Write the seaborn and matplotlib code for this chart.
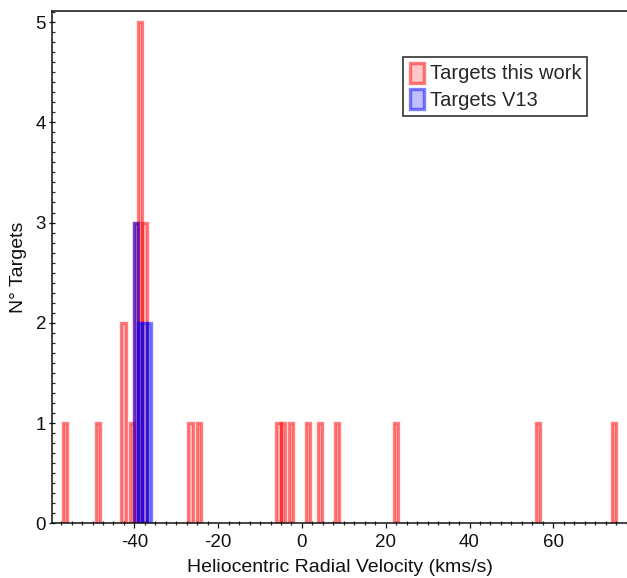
import numpy as np
import seaborn as sb
from matplotlib import pyplot as plt
from matplotlib.patches import Patch
from matplotlib.ticker import MultipleLocator

# heliocentric radial velocities (km/s)
v_this_work = [-56.6, -48.6, -42.8, -42.5, -40.6,
               -39.8, -39.6, -39.4,
               -38.9, -38.7, -38.6, -38.4, -38.2,
               -37.8, -37.6, -37.3,
               -26.6, -24.6, -5.7, -4.6, -2.6, 1.4, 4.4, 8.4,
               22.4, 56.4, 74.4]
v_v13 = [-39.8, -39.6, -39.3,
         -38.7, -38.4,
         -37.7, -37.4,
         -36.7, -36.4]

labels = ["Targets this work", "Targets V13"]
bins = np.arange(-59.1, 78.0, 1.0)

sb.set_style("ticks")
plt.rcParams['font.family'] = ['Liberation Sans', 'DejaVu Sans']
plt.rcParams['axes.unicode_minus'] = False

fig = plt.figure(figsize=(6.27, 5.78), dpi=100)
ax = fig.add_axes([52.3 / 627, 54.7 / 578, 1 - 52.3 / 627, 512.3 / 578])

red_face, red_edge = (1, 0, 0, 0.22), (1, 0, 0, 0.5)
blue_face, blue_edge = (0, 0, 1, 0.25), (0, 0, 1, 0.5)

def style_bars(start, face, edge):
    for p in ax.patches[start:]:
        if p.get_height() == 0:
            p.set_visible(False)
        p.set_facecolor(face)
        p.set_edgecolor(edge)
        p.set_linewidth(2.4)

n0 = len(ax.patches)
sb.histplot(x=v_this_work, bins=bins, ax=ax, color="red")
style_bars(n0, red_face, red_edge)

n0 = len(ax.patches)
sb.histplot(x=v_v13, bins=bins, ax=ax, color="blue")
style_bars(n0, blue_face, blue_edge)

ax.set_xlim(-59.6, 77.6)
ax.set_ylim(0, 5.11)

ax.xaxis.set_major_locator(MultipleLocator(20))
ax.xaxis.set_minor_locator(MultipleLocator(2.5))
ax.yaxis.set_major_locator(MultipleLocator(1))
ax.yaxis.set_minor_locator(MultipleLocator(0.1))

ax.tick_params(axis="x", which="major", direction="out", length=3.5, width=0.9,
               labelsize=13.5, pad=4, colors="#111111")
ax.tick_params(axis="x", which="minor", direction="inout", length=3, width=0.9)
ax.tick_params(axis="y", which="major", direction="inout", length=5, width=0.9,
               labelsize=13.5, pad=2, colors="#111111")
ax.tick_params(axis="y", which="minor", direction="in", length=2.4, width=0.9)

for s in ["left", "bottom", "top"]:
    ax.spines[s].set_linewidth(1.1)
    ax.spines[s].set_color("#111111")
ax.spines["right"].set_visible(False)

ax.set_xlabel("Heliocentric Radial Velocity (kms/s)", fontsize=14, labelpad=6, color="#111111")
ax.set_ylabel("N° Targets", fontsize=14, labelpad=6, color="#111111")

handles = [Patch(facecolor=red_face, edgecolor=red_edge, lw=2.4, label=labels[0]),
           Patch(facecolor=blue_face, edgecolor=blue_edge, lw=2.4, label=labels[1])]
leg = ax.legend(handles=handles, loc="upper right", bbox_to_anchor=(0.931, 0.911),
                borderaxespad=0, fontsize=14.5, frameon=True, fancybox=False,
                framealpha=1, edgecolor="#333333", handlelength=0.7,
                handleheight=1.15, handletextpad=0.3, labelspacing=0.3,
                borderpad=0.3)
leg.get_frame().set_linewidth(1.2)

fig.savefig("out.png", dpi=100)
